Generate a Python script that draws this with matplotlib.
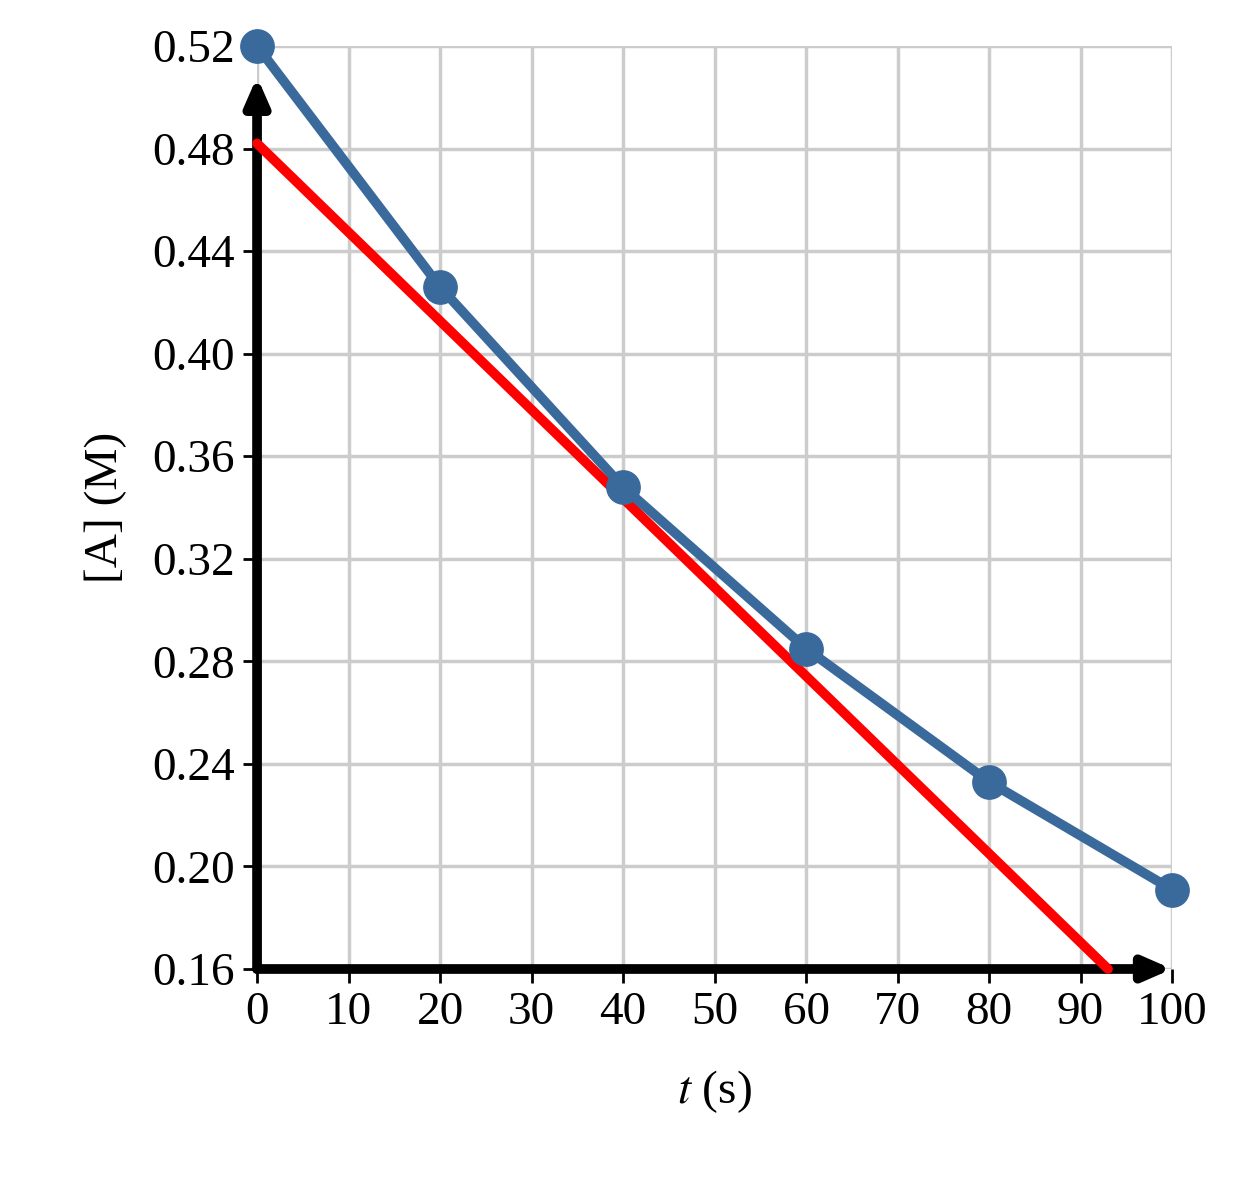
import matplotlib.pyplot as plt

times = [0, 20, 40, 60, 80, 100]
conc = [0.52, 0.426, 0.348, 0.285, 0.233, 0.191]
tangent_t = [0, 93]
tangent_c = [0.482, 0.16]
x_ticks = list(range(0, 101, 10))
y_ticks = [0.16, 0.20, 0.24, 0.28, 0.32, 0.36, 0.40, 0.44, 0.48, 0.52]

plt.rcParams["font.family"] = ["Liberation Serif", "DejaVu Serif"]
plt.rcParams["mathtext.fontset"] = "stix"

fig = plt.figure(figsize=(12.37, 11.83), dpi=100)
ax = fig.add_axes([0.2078, 0.1809, 0.7397, 0.7802])

ax.set_xlim(0, 100)
ax.set_ylim(0.16, 0.52)
ax.set_xticks(x_ticks)
ax.set_yticks(y_ticks)
ax.set_yticklabels(["%.2f" % v for v in y_ticks])
ax.grid(True, color="#cccccc", linewidth=2.5)
for s in ax.spines.values():
    s.set_visible(False)
ax.tick_params(labelsize=34, length=10, width=2, color="black", pad=6)

# axis arrows
ax.annotate("", xy=(0, 0.508), xytext=(0, 0.16),
            arrowprops=dict(arrowstyle="-|>,head_length=1.6,head_width=0.7",
                            color="black", lw=7, shrinkA=0, shrinkB=0),
            annotation_clip=False, zorder=2)
ax.annotate("", xy=(100, 0.16), xytext=(0, 0.16),
            arrowprops=dict(arrowstyle="-|>,head_length=1.6,head_width=0.7",
                            color="black", lw=7, shrinkA=0, shrinkB=0),
            annotation_clip=False, zorder=2)

ax.plot(tangent_t, tangent_c, color="#ff0000", lw=7, solid_capstyle="round",
        zorder=3, clip_on=False)
ax.plot(times, conc, "o-", color="#3a6a9c", lw=7, ms=24, zorder=4, clip_on=False)

ax.set_xlabel(r"$t$ (s)", fontsize=34, labelpad=25)
ax.set_ylabel("[A] (M)", fontsize=34, labelpad=18)

fig.savefig("out.png")
